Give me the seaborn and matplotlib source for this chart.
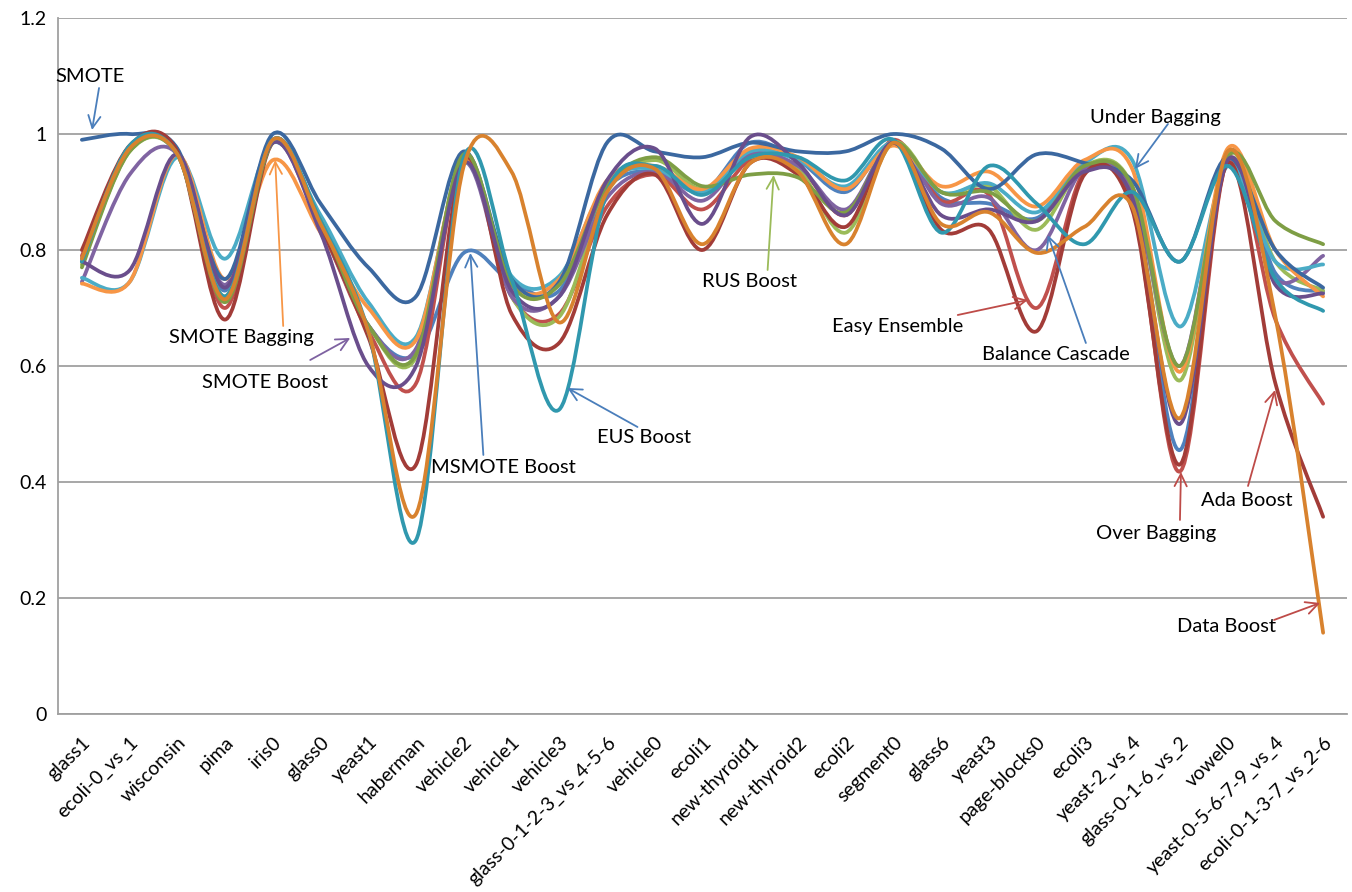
"""
Smoothed line chart of per-dataset scores for 12 imbalance-learning methods.
"""
import numpy as np
import matplotlib
matplotlib.use("Agg")
import matplotlib.pyplot as plt
from matplotlib.path import Path
from matplotlib.patches import PathPatch
import seaborn as sns

datasets = ["glass1", "ecoli-0_vs_1", "wisconsin", "pima", "iris0", "glass0", "yeast1",
            "haberman", "vehicle2", "vehicle1", "vehicle3", "glass-0-1-2-3_vs_4-5-6",
            "vehicle0", "ecoli1", "new-thyroid1", "new-thyroid2", "ecoli2", "segment0",
            "glass6", "yeast3", "page-blocks0", "ecoli3", "yeast-2_vs_4", "glass-0-1-6_vs_2",
            "vowel0", "yeast-0-5-6-7-9_vs_4", "ecoli-0-1-3-7_vs_2-6"]

# values, one list per method
msmote_boost = [0.785, 0.975, 0.965, 0.73, 0.99, 0.85, 0.67, 0.62, 0.795, 0.745, 0.73, 0.905,
                0.935, 0.90, 0.985, 0.955, 0.90, 0.985, 0.89, 0.88, 0.855, 0.94, 0.90, 0.455,
                0.965, 0.76, 0.728]
easy_ensemble = [0.79, 0.975, 0.97, 0.70, 0.99, 0.84, 0.66, 0.57, 0.96, 0.72, 0.69, 0.875,
                 0.93, 0.87, 0.955, 0.945, 0.86, 0.99, 0.885, 0.895, 0.70, 0.935, 0.88, 0.418,
                 0.955, 0.68, 0.535]
over_bagging = [0.775, 0.97, 0.965, 0.72, 0.99, 0.85, 0.67, 0.615, 0.965, 0.72, 0.685, 0.90,
                0.955, 0.905, 0.96, 0.94, 0.83, 0.985, 0.90, 0.91, 0.835, 0.945, 0.91, 0.575,
                0.965, 0.78, 0.73]
balance_cascade = [0.745, 0.93, 0.965, 0.74, 0.985, 0.84, 0.67, 0.63, 0.95, 0.72, 0.72, 0.89,
                   0.935, 0.885, 0.965, 0.945, 0.87, 0.985, 0.88, 0.89, 0.80, 0.94, 0.90, 0.60,
                   0.955, 0.75, 0.79]
under_bagging = [0.752, 0.745, 0.96, 0.785, 0.985, 0.86, 0.71, 0.65, 0.95, 0.755, 0.755, 0.915,
                 0.94, 0.90, 0.97, 0.955, 0.91, 0.985, 0.90, 0.915, 0.865, 0.95, 0.955, 0.668,
                 0.945, 0.78, 0.775]
smote_bagging = [0.742, 0.745, 0.965, 0.75, 0.955, 0.83, 0.70, 0.645, 0.955, 0.745, 0.75, 0.92,
                 0.945, 0.905, 0.975, 0.96, 0.905, 0.98, 0.91, 0.935, 0.875, 0.955, 0.94, 0.59,
                 0.975, 0.80, 0.72]
smote = [0.99, 1.0, 0.975, 0.75, 1.0, 0.88, 0.77, 0.72, 0.97, 0.75, 0.745, 0.985,
         0.97, 0.96, 0.985, 0.97, 0.97, 1.0, 0.975, 0.905, 0.965, 0.95, 0.92, 0.78,
         0.96, 0.80, 0.735]
ada_boost = [0.80, 0.98, 0.97, 0.68, 0.985, 0.84, 0.65, 0.43, 0.955, 0.69, 0.64, 0.86,
             0.93, 0.80, 0.95, 0.93, 0.84, 0.985, 0.835, 0.835, 0.66, 0.93, 0.87, 0.43,
             0.95, 0.57, 0.34]
rus_boost = [0.77, 0.97, 0.965, 0.71, 0.985, 0.85, 0.67, 0.62, 0.965, 0.74, 0.74, 0.91,
             0.96, 0.91, 0.93, 0.925, 0.865, 0.985, 0.90, 0.90, 0.85, 0.945, 0.91, 0.60,
             0.96, 0.85, 0.81]
smote_boost = [0.78, 0.765, 0.965, 0.735, 0.985, 0.83, 0.60, 0.60, 0.95, 0.73, 0.72, 0.92,
               0.975, 0.845, 0.995, 0.95, 0.86, 0.985, 0.86, 0.87, 0.85, 0.935, 0.89, 0.50,
               0.955, 0.74, 0.725]
eus_boost = [0.78, 0.98, 0.965, 0.72, 0.99, 0.85, 0.66, 0.30, 0.96, 0.75, 0.525, 0.90,
             0.945, 0.895, 0.96, 0.96, 0.92, 0.99, 0.83, 0.945, 0.88, 0.81, 0.90, 0.78,
             0.945, 0.75, 0.695]
data_boost = [0.785, 0.975, 0.965, 0.715, 0.99, 0.845, 0.66, 0.345, 0.945, 0.935, 0.675, 0.90,
              0.94, 0.81, 0.95, 0.935, 0.81, 0.985, 0.845, 0.865, 0.795, 0.84, 0.875, 0.51,
              0.97, 0.685, 0.14]

series = [
    (msmote_boost, "#4F81BD"),
    (easy_ensemble, "#C0504D"),
    (over_bagging, "#9BBB59"),
    (balance_cascade, "#8064A2"),
    (under_bagging, "#4BACC6"),
    (smote_bagging, "#F79646"),
    (smote, "#3B68A0"),
    (ada_boost, "#A23C38"),
    (rus_boost, "#7E9E45"),
    (smote_boost, "#6A4E8C"),
    (eus_boost, "#3098AE"),
    (data_boost, "#D8822E"),
]

# label text (x, y in pixels of the 1352x892 picture), arrow tail, arrow tip, colour
labels = [
    ("SMOTE", (90, 76), (99, 88), (92, 130), "#4A7EBB"),
    ("Under Bagging", (1155, 117), (1167, 124), (1134, 169), "#4A7EBB"),
    ("SMOTE Bagging", (241, 338), (283, 326), (275, 160), "#F79646"),
    ("SMOTE Boost", (265, 383), (310, 360), (350, 338), "#7E62A1"),
    ("MSMOTE Boost", (503, 468), (483, 455), (470, 253), "#4A7EBB"),
    ("EUS Boost", (644, 438), (637, 427), (567, 388), "#4A7EBB"),
    ("RUS Boost", (749, 282), (767, 270), (773, 175), "#9BBB59"),
    ("Easy Ensemble", (897, 327), (957, 315), (1027, 300), "#BE4B48"),
    ("Balance Cascade", (1055, 355), (1085, 343), (1047, 235), "#4A7EBB"),
    ("Ada Boost", (1246, 501), (1247, 486), (1274, 390), "#BE4B48"),
    ("Over Bagging", (1155, 534), (1179, 520), (1180, 472), "#BE4B48"),
    ("Data Boost", (1226, 627), (1273, 620), (1319, 603), "#BE4B48"),
]


def smooth_path(ys):
    # Excel style smoothed line: cubic Bezier through every data point
    pts = np.column_stack([np.arange(len(ys)), ys]).astype(float)
    n = len(pts)
    verts = [pts[0]]
    codes = [Path.MOVETO]
    for i in range(n - 1):
        p0 = pts[i - 1] if i > 0 else pts[i]
        p1, p2 = pts[i], pts[i + 1]
        p3 = pts[i + 2] if i + 2 < n else pts[i + 1]
        verts += [p1 + (p2 - p0) / 6, p2 - (p3 - p1) / 6, p2]
        codes += [Path.CURVE4] * 3
    return Path(verts, codes)


def px_to_data(px, py):
    return ((px - 58) / 47.7 - 0.5, (714 - py) / 580)


sns.set_theme(style="white")
plt.rcParams["font.family"] = ["Lato", "DejaVu Sans"]

fig, ax = plt.subplots(figsize=(13.52, 8.92), dpi=100)
fig.subplots_adjust(left=0.0429, right=0.9963, bottom=0.1996, top=0.9798)

for ys, color in series:
    ax.add_patch(PathPatch(smooth_path(ys), facecolor="none", edgecolor=color,
                           lw=2.7, capstyle="round", joinstyle="round", zorder=3))

for text, pos, tail, tip, color in labels:
    ax.text(*px_to_data(*pos), text, fontsize=14.5, ha="center", va="center",
            color="black", zorder=5)
    ax.annotate("", xy=px_to_data(*tip), xytext=px_to_data(*tail),
                arrowprops=dict(arrowstyle="->", color=color, lw=1.3,
                                mutation_scale=22, shrinkA=0, shrinkB=0),
                zorder=5)

ax.set_xlim(-0.5, len(datasets) - 0.5)
ax.set_ylim(0, 1.2)
ax.set_yticks([0, 0.2, 0.4, 0.6, 0.8, 1.0, 1.2])
ax.set_yticklabels(["0", "0.2", "0.4", "0.6", "0.8", "1", "1.2"], fontsize=14)
ax.set_xticks(range(len(datasets)))
ax.set_xticklabels(datasets, rotation=45, ha="right", rotation_mode="anchor", fontsize=14)
ax.tick_params(axis="both", length=0, pad=8, colors="black")
ax.tick_params(axis="x", pad=14)

ax.yaxis.grid(True, color="#A0A0A0", lw=1.3)
ax.set_axisbelow(True)
for side in ["top", "right"]:
    ax.spines[side].set_visible(False)
for side in ["left", "bottom"]:
    ax.spines[side].set_color("#A0A0A0")
    ax.spines[side].set_linewidth(1.3)

fig.savefig("out.png", dpi=100)
